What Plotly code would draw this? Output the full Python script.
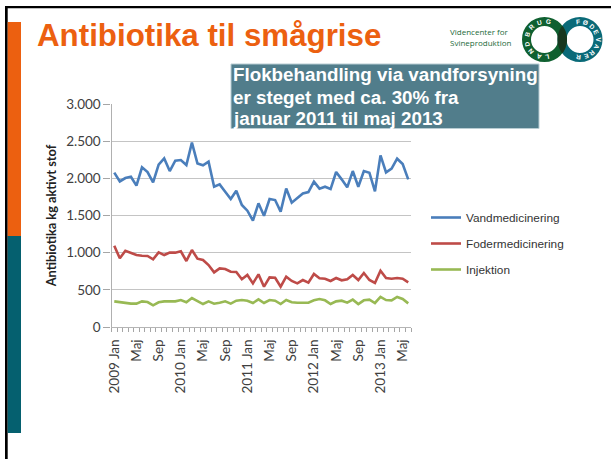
import numpy as np
import plotly.graph_objects as go

W, H = 611, 459

months = list(range(54))
tick_positions = list(range(0, 54, 4))
tick_labels = ["2009 Jan", "Maj", "Sep", "2010 Jan", "Maj", "Sep", "2011 Jan", "Maj", "Sep",
               "2012 Jan", "Maj", "Sep", "2013 Jan", "Maj"]
y_ticks = [0, 500, 1000, 1500, 2000, 2500, 3000]
y_tick_labels = ["0", "500", "1.000", "1.500", "2.000", "2.500", "3.000"]

vand = [2076, 1958, 2004, 2022, 1901, 2148, 2085, 1946, 2183, 2268, 2098, 2237, 2246, 2179,
        2480, 2200, 2175, 2224, 1887, 1919, 1820, 1722, 1833, 1641, 1565, 1430, 1664, 1497,
        1722, 1708, 1552, 1864, 1673, 1730, 1797, 1815, 1955, 1861, 1887, 1856, 2085, 1986,
        1879, 2098, 1887, 2098, 2076, 1825, 2309, 2080, 2130, 2264, 2192, 1986]
foder = [1094, 924, 1026, 1000, 968, 959, 955, 910, 1004, 968, 1000, 1000, 1018, 888,
         1036, 919, 901, 834, 735, 789, 780, 744, 740, 642, 700, 587, 708, 542,
         668, 663, 542, 677, 619, 587, 632, 596, 713, 655, 650, 619, 659, 628,
         641, 700, 632, 726, 632, 592, 757, 659, 650, 659, 650, 601]
injektion = [345, 332, 327, 314, 314, 345, 336, 291, 332, 345, 345, 345, 363, 332,
             390, 345, 309, 345, 314, 327, 345, 314, 354, 363, 354, 323, 372, 323,
             363, 354, 309, 363, 332, 327, 327, 327, 359, 377, 359, 309, 345, 354,
             327, 368, 309, 359, 368, 323, 404, 363, 359, 404, 377, 318]

series = [("Vandmedicinering", vand, "#4a7ebb"),
          ("Fodermedicinering", foder, "#be4b48"),
          ("Injektion", injektion, "#98b954")]


def px(x):
    return x / W


def py(y):
    return 1 - y / H


fig = go.Figure()
for i, (name, vals, col) in enumerate(series):
    fig.add_trace(go.Scatter(x=months, y=vals, mode="lines", name=name, legendgroup=name,
                             line=dict(color=col, width=2.6)))


def rect(x0, y0, x1, y1, color, **kw):
    return dict(type="rect", xref="paper", yref="paper", x0=px(x0), x1=px(x1), y0=py(y0), y1=py(y1),
                fillcolor=color, line=dict(width=0), **kw)


shapes = [
    rect(5, 6, W, 8.3, "#000000"),
    rect(5, 6, 7.7, H, "#000000"),
    rect(7.7, 22, 21, 236, "#ec6010"),
    rect(7.7, 236, 21, 433, "#05606f"),
    dict(type="rect", xref="paper", yref="paper", x0=px(231), x1=px(539), y0=py(64), y1=py(128.5),
         fillcolor="#517d8b", line=dict(color="#b9cdd3", width=1)),
]


def ring(cx, cy, color):
    r = 18
    return dict(type="circle", xref="paper", yref="paper", x0=px(cx - r), x1=px(cx + r),
                y0=py(cy + r), y1=py(cy - r), line=dict(color=color, width=9),
                fillcolor="rgba(0,0,0,0)")


g_c, t_c, R = (544.5, 39.5), (580.0, 39.5), 22.5
shapes += [ring(*t_c, "#0a6a78"), ring(*g_c, "#0f6030")]
half = np.arccos((t_c[0] - g_c[0]) / 2 / R)
a = np.linspace(-half, half, 24)
lens = [(g_c[0] + R * np.cos(t), g_c[1] + R * np.sin(t)) for t in a] + \
       [(t_c[0] - R * np.cos(t), t_c[1] - R * np.sin(t)) for t in a]
path = "M " + " L ".join(f"{px(x):.5f},{py(y):.5f}" for x, y in lens) + " Z"
shapes.append(dict(type="path", xref="paper", yref="paper", path=path, fillcolor="#17381f", line=dict(width=0)))

annotations = []


def text(x, y, s, size, color, family="Liberation Sans", bold=False, anchor="left"):
    annotations.append(dict(xref="paper", yref="paper", x=px(x), y=py(y), text=f"<b>{s}</b>" if bold else s,
                            showarrow=False, xanchor=anchor, yanchor="middle",
                            font=dict(size=size, color=color, family=family), borderpad=0))


text(36, 36, "Antibiotika til smågrise", 31.3, "#ec6010", bold=True)
text(231.5, 75, "Flokbehandling via vandforsyning", 18.8, "#ffffff", bold=True)
text(231.5, 97, "er steget med ca. 30% fra", 18.8, "#ffffff", bold=True)
text(231.5, 118, "januar 2011 til maj 2013", 18.8, "#ffffff", bold=True)
text(448.5, 31, "Videncenter for", 8, "#1a6a3a", family="Open Sans")
text(448.5, 42, "Svineproduktion", 8, "#1a6a3a", family="Open Sans")


def arc_text(s, c, start, step):
    for k, ch in enumerate(s):
        th = np.radians(start + k * step)
        annotations.append(dict(xref="paper", yref="paper", x=px(c[0] + 18 * np.sin(th)),
                                y=py(c[1] - 18 * np.cos(th)), text=f"<b>{ch}</b>", showarrow=False,
                                textangle=(start + k * step) % 360, xanchor="center", yanchor="middle",
                                font=dict(size=6.5, color="#ffffff", family="Liberation Sans")))


arc_text("LANDBRUG", g_c, 170, 29)
arc_text("FØDEVARER", t_c, -5, 23.75)

fig.update_layout(
    width=W, height=H, autosize=False,
    margin=dict(l=0, r=0, t=0, b=0, pad=0, autoexpand=False),
    paper_bgcolor="#ffffff", plot_bgcolor="#ffffff",
    font=dict(family="Lato", color="#404040"),
    shapes=shapes, annotations=annotations,
    legend=dict(x=px(426), y=py(203), xanchor="left", yanchor="top", itemwidth=30,
                tracegroupgap=7, bgcolor="rgba(0,0,0,0)",
                font=dict(family="Liberation Sans", size=11.8, color="#333333")),
    xaxis=dict(domain=[px(111.5), px(411)], range=[-0.5, 53.5], tickmode="array", automargin=False,
               tickvals=tick_positions, ticktext=tick_labels, tickangle=-90,
               ticks="outside", ticklen=6, tickcolor="rgba(0,0,0,0)",
               tickfont=dict(family="Lato", size=13.5, color="#404040"),
               showgrid=False, zeroline=False, showline=True, linecolor="#b5b5b5", linewidth=1,
               minor=dict(ticks="outside", ticklen=4, tickcolor="#a6a6a6", tickwidth=1,
                          tick0=-0.5, dtick=1, showgrid=False)),
    yaxis=dict(domain=[py(327), py(104)], range=[0, 3000], tickmode="array", automargin=False,
               tickvals=y_ticks, ticktext=y_tick_labels,
               ticks="outside", ticklen=7, tickcolor="#a6a6a6",
               tickfont=dict(family="Lato", size=13.5, color="#404040"),
               showgrid=True, gridcolor="#c4c4c4", gridwidth=1.2, zeroline=False,
               showline=True, linecolor="#b0b0b0", linewidth=1.2,
               title=dict(text="<b>Antibiotika kg aktivt stof</b>", standoff=6,
                          font=dict(family="Lato", size=12.8, color="#222222"))),
)

fig.write_html("out.html", config={"displayModeBar": False},
               post_script="document.body.style.margin='0';document.documentElement.style.overflow='hidden';")
